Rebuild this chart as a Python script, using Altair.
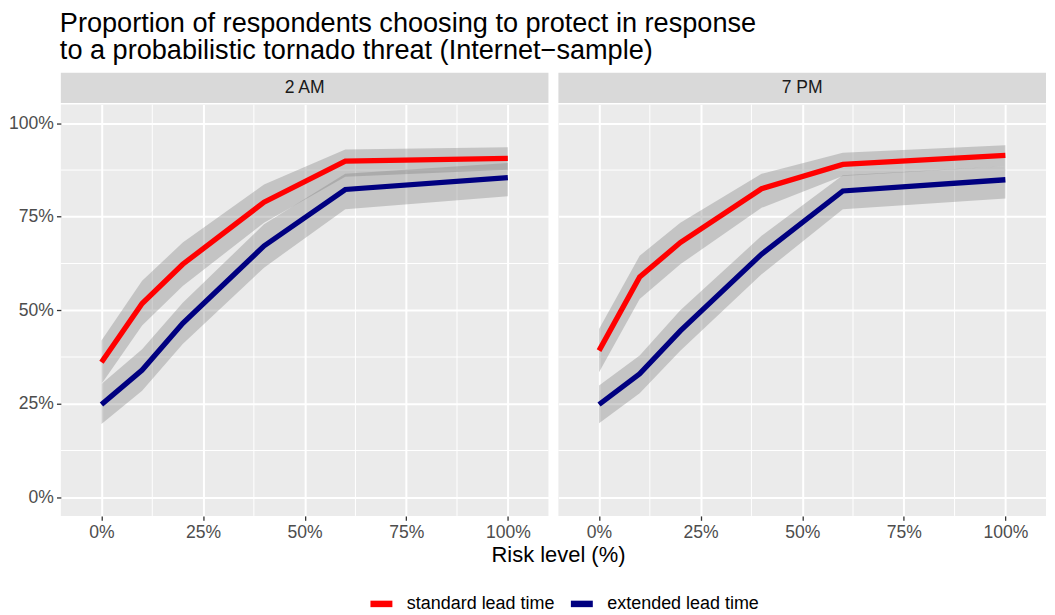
import altair as alt
import pandas as pd

FONT = "Liberation Sans"

# ---- data ----
risk = [0, 10, 20, 40, 60, 100]
times = ["2 AM", "7 PM"]
series_names = ["standard lead time", "extended lead time"]
series_colors = ["#FF0000", "#000080"]

am_std = [36.1, 51.8, 62.3, 78.9, 89.9, 90.6]
am_std_lo = [30.3, 45.9, 56.5, 73.4, 85.7, 87.6]
am_std_hi = [41.9, 57.9, 68.1, 83.6, 93.0, 93.6]
am_ext = [24.8, 34.0, 46.5, 67.2, 82.3, 85.5]
am_ext_lo = [19.6, 28.5, 41.0, 61.4, 77.0, 80.5]
am_ext_hi = [30.3, 39.6, 52.0, 73.0, 86.5, 89.4]

pm_std = [39.2, 58.9, 68.1, 82.5, 89.0, 91.4]
pm_std_lo = [33.4, 53.0, 62.3, 77.4, 85.9, 88.5]
pm_std_hi = [45.0, 64.6, 73.4, 86.5, 92.1, 94.1]
pm_ext = [24.8, 33.0, 44.5, 65.0, 81.9, 84.9]
pm_ext_lo = [19.8, 27.8, 39.2, 59.6, 77.0, 79.9]
pm_ext_hi = [29.9, 37.9, 50.0, 69.9, 86.1, 88.5]

major_ticks = [0, 25, 50, 75, 100]
minor_ticks = [12.5, 37.5, 62.5, 87.5]

rows = []
for t, s, v, lo, hi in [
    ("2 AM", series_names[0], am_std, am_std_lo, am_std_hi),
    ("2 AM", series_names[1], am_ext, am_ext_lo, am_ext_hi),
    ("7 PM", series_names[0], pm_std, pm_std_lo, pm_std_hi),
    ("7 PM", series_names[1], pm_ext, pm_ext_lo, pm_ext_hi),
]:
    for r, a, b, c in zip(risk, v, lo, hi):
        rows.append({"time": t, "series": s, "risk": r, "value": a, "lo": b, "hi": c})
df = pd.DataFrame(rows)

W, H, SH = 489, 412.5, 30.5
xscale = alt.Scale(domain=[-10, 110], nice=False, zero=False)
yscale = alt.Scale(domain=[-5, 105], nice=False, zero=False)

legend = alt.Legend(
    title=None, orient="none", direction="horizontal", legendX=307, legendY=518,
    symbolType="stroke", symbolStrokeWidth=6.5, symbolSize=484,
    labelFontSize=18, labelFont=FONT, labelColor="black",
    labelOffset=11, columnPadding=2,
)


def panel(t, first):
    d = df[df["time"] == t]
    xaxis = alt.Axis(values=major_ticks, labelExpr="datum.value + '%'", title=None, grid=True)
    if first:
        yaxis = alt.Axis(values=major_ticks, labelExpr="datum.value + '%'", title=None, grid=True)
    else:
        yaxis = alt.Axis(values=major_ticks, labels=False, ticks=False, title=None, grid=True)
    mdf = pd.DataFrame({"m": minor_ticks})
    mx = alt.Chart(mdf).mark_rule(color="white", strokeWidth=1).encode(
        x=alt.X("m:Q", scale=xscale, axis=xaxis))
    my = alt.Chart(mdf).mark_rule(color="white", strokeWidth=1).encode(
        y=alt.Y("m:Q", scale=yscale, axis=yaxis))
    band = alt.Chart(d).mark_area(color="#7F7F7F", opacity=0.36).encode(
        x=alt.X("risk:Q", scale=xscale, axis=xaxis),
        y=alt.Y("lo:Q", scale=yscale, axis=yaxis),
        y2="hi:Q",
        detail="series:N",
    )
    line = alt.Chart(d).mark_line(strokeWidth=5.3).encode(
        x=alt.X("risk:Q", scale=xscale, axis=xaxis),
        y=alt.Y("value:Q", scale=yscale, axis=yaxis),
        color=alt.Color("series:N", scale=alt.Scale(domain=series_names, range=series_colors),
                        legend=legend, sort=series_names),
    )
    plot = alt.layer(mx, my, band, line).properties(
        width=W, height=H, view=alt.ViewBackground(fill="#EBEBEB", stroke=None))
    strip = alt.Chart(pd.DataFrame({"label": [t]})).mark_text(
        fontSize=17.6, color="#1A1A1A", font=FONT).encode(text="label:N").properties(
        width=W, height=SH, view=alt.ViewBackground(fill="#D9D9D9", stroke=None))
    return alt.vconcat(strip, plot, spacing=0)


body = alt.hconcat(
    panel(times[0], True), panel(times[1], False), spacing=8,
    title=alt.Title("Risk level (%)", orient="bottom", fontSize=22, fontWeight="normal",
                    font=FONT, color="black", anchor="middle", offset=4, dx=31),
).resolve_scale(color="shared")

chart = alt.vconcat(
    body, spacing=0, padding=0,
    title=alt.Title(
        ["Proportion of respondents choosing to protect in response",
         "to a probabilistic tornado threat (Internet\u2212sample)"],
        anchor="start", fontSize=27.2, fontWeight="normal", font=FONT, color="black",
        lineHeight=27.5, offset=7.5, dx=-1, frame="group"),
).resolve_scale(color="shared").configure(
    font=FONT,
).configure_axis(
    labelFont=FONT, labelFontSize=17.6, labelColor="#4D4D4D",
    tickColor="#333333", tickSize=4.4, tickWidth=1.3, domain=False,
    gridColor="white", gridWidth=2, labelPadding=3,
).configure_view(stroke=None)

chart.save("out.html", embed_options={"renderer": "svg", "actions": False})
